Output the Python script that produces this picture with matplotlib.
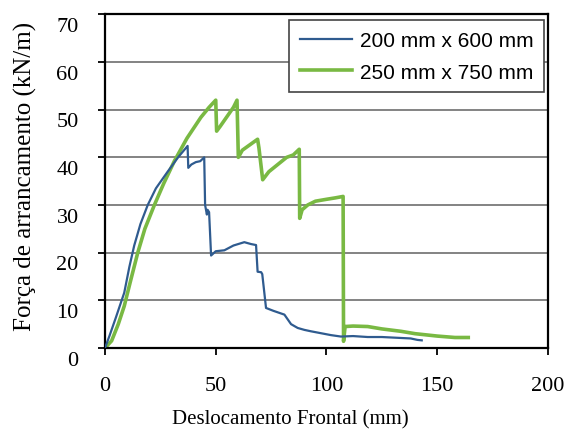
import matplotlib.pyplot as plt
import matplotlib.transforms as mtransforms

# curvas força x deslocamento dos dois ensaios
x_200 = [0, 2, 5, 8.7, 11, 13.2, 16, 19.3, 23, 28.3, 33, 37.3, 37.6, 39, 41, 43, 44.8,
         45.2, 46, 46.3, 47.0, 47.9, 50, 53.9, 58, 62.9, 66, 68.2, 68.9, 70.5, 71.0, 72.7,
         76, 81, 84, 87, 90, 93, 97.5, 102, 106.5, 112, 118.6, 125, 133.6, 138, 141, 143]
f_200 = [0, 2.5, 6.5, 11.6, 17, 21.5, 26, 30, 33.5, 37, 40, 42.4, 37.8, 38.5, 39, 39.2, 40,
         30, 28, 29, 28.5, 19.4, 20.3, 20.5, 21.5, 22.2, 21.8, 21.6, 16, 15.9, 15.5, 8.4,
         7.8, 7, 5, 4.2, 3.8, 3.5, 3.1, 2.7, 2.4, 2.5, 2.3, 2.3, 2.1, 2.0, 1.7, 1.6]

x_250 = [0, 3, 6, 8.7, 11.5, 14.8, 18, 22.3, 26.5, 31.3, 37, 43.3, 47, 50, 50.4, 52, 55,
         58, 59.6, 60.2, 62, 65, 68.9, 69.5, 71.2, 74, 78, 82, 85, 87.7, 87.9, 89, 91.5,
         95, 100, 104, 107.5, 107.7, 108.4, 112, 118.6, 125, 133.6, 140, 150, 158, 164]
f_250 = [0, 1.5, 5, 8.8, 14, 20, 25, 30, 34.5, 39.2, 44, 48.4, 50.5, 52, 45.5, 46.5, 48.5,
         50.5, 52, 40, 41.5, 42.5, 43.8, 42, 35.3, 37, 38.5, 40, 40.5, 41.7, 27.2, 29, 30,
         30.8, 31.2, 31.5, 31.8, 1.4, 4.5, 4.6, 4.5, 4, 3.5, 3, 2.5, 2.2, 2.2]

x_ticks = [0, 50, 100, 150, 200]
y_ticks = [0, 10, 20, 30, 40, 50, 60, 70]

serif = 'Liberation Serif'

fig = plt.figure(figsize=(5.69, 4.31), dpi=100)
ax = fig.add_axes([0.1845, 0.1903, 0.7786, 0.774])

ax.plot(x_200, f_200, color='#2f5b8f', lw=1.6, label='200 mm x 600 mm', zorder=3)
ax.plot(x_250, f_250, color='#79b943', lw=2.6, label='250 mm x 750 mm', zorder=2)

ax.set_xlim(0, 200)
ax.set_ylim(0, 70)
ax.set_xticks(x_ticks)
ax.set_yticks(y_ticks)
ax.yaxis.grid(True, color='#6e6e6e', lw=1.2)
ax.set_axisbelow(True)
for s in ax.spines.values():
    s.set_linewidth(1.6)
    s.set_color('black')
ax.tick_params(direction='out', length=5, width=1.3, labelsize=16)
ax.tick_params(axis='x', pad=15)
ax.tick_params(axis='y', pad=14)
for lab in ax.get_xticklabels() + ax.get_yticklabels():
    lab.set_family(serif)
# rótulos do eixo y um pouco abaixo das linhas de grade
desloc = mtransforms.ScaledTranslation(0, -7 / 72, fig.dpi_scale_trans)
for lab in ax.get_yticklabels():
    lab.set_transform(lab.get_transform() + desloc)

ax.set_xlabel('Deslocamento Frontal (mm)', family=serif, fontsize=15)
ax.xaxis.set_label_coords(0.418, -0.185)
ax.set_ylabel('Força de arrancamento (kN/m)', family=serif, fontsize=18)
ax.yaxis.set_label_coords(-0.153, 0.517)

leg = ax.legend(loc='upper right', bbox_to_anchor=(0.991, 0.982), borderaxespad=0,
                fancybox=False, framealpha=1, edgecolor='#444444', handlelength=2.5,
                handletextpad=0.4, prop={'family': 'Liberation Sans', 'size': 15},
                labelspacing=0.62, borderpad=0.5)
leg.get_frame().set_linewidth(1.2)

fig.savefig('out.png', dpi=100)
